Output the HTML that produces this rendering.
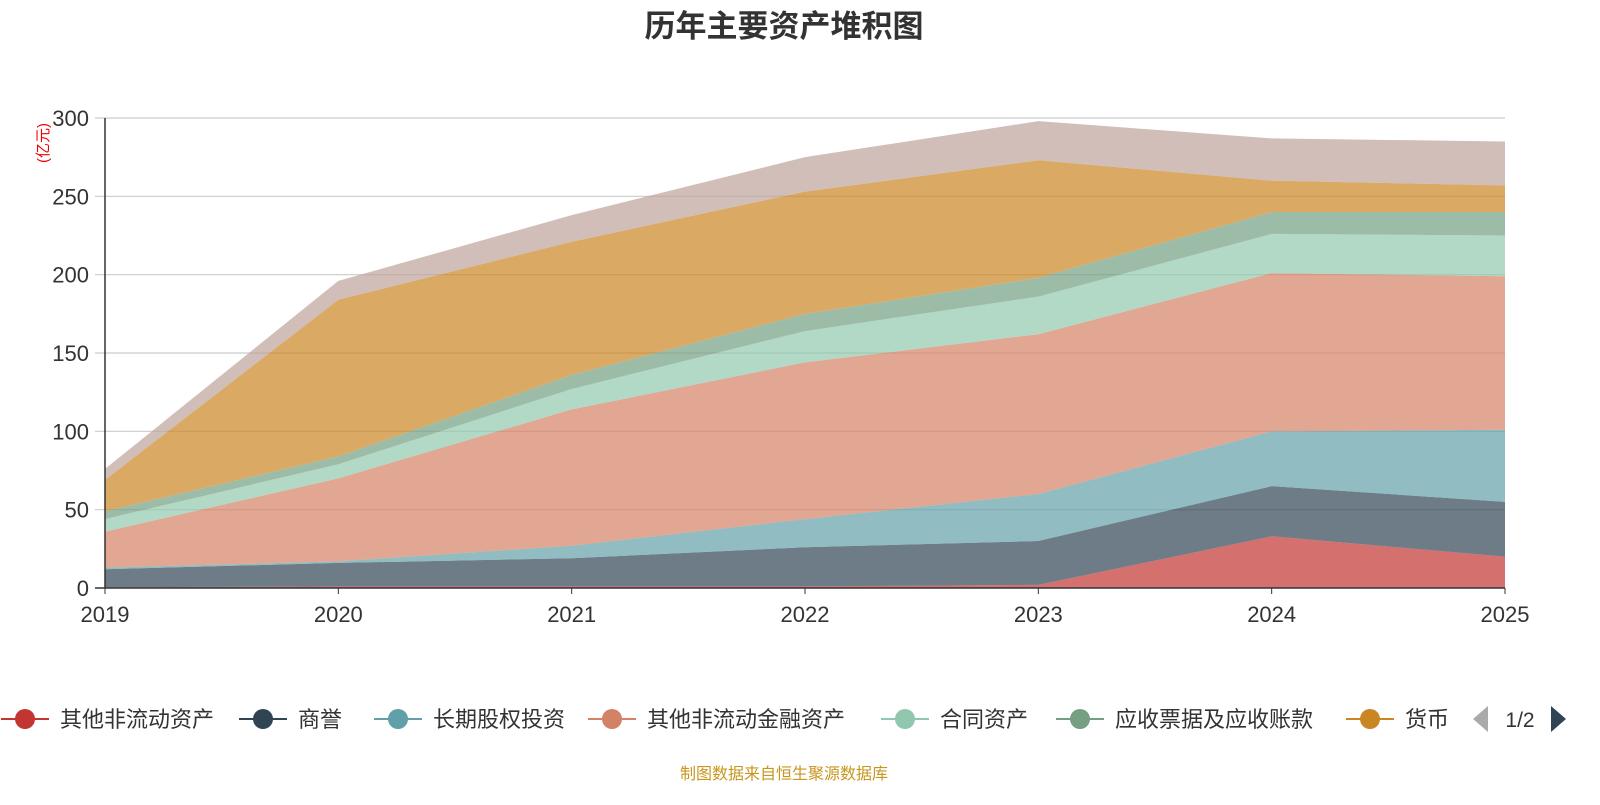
<!DOCTYPE html>
<html><head><meta charset="utf-8">
<style>
body{margin:0;background:#fff;width:1600px;height:800px;overflow:hidden;font-family:"Liberation Sans","Noto Sans CJK SC",sans-serif;}
</style></head>
<body>
<svg id="c" width="1600" height="800" xmlns="http://www.w3.org/2000/svg">
<text x="784" y="37" text-anchor="middle" font-size="31" font-weight="bold" fill="#333">历年主要资产堆积图</text>
<text transform="translate(48,143) rotate(-90)" text-anchor="middle" font-size="15" fill="#e00">(亿元)</text>
<g id="grid"></g><g id="areas"></g><g id="axes"></g><g id="legend"></g>
<text x="784" y="779" text-anchor="middle" font-size="16" fill="#c8961e">制图数据来自恒生聚源数据库</text>
</svg>
<script>
const years=['2019','2020','2021','2022','2023','2024','2025'];
const yTicks=[0,50,100,150,200,250,300];
const seriesNames=['其他非流动资产','商誉','长期股权投资','其他非流动金融资产','合同资产','应收票据及应收账款','货币','其他'];
const colors=['#c23531','#2f4554','#61a0a8','#d48265','#91c7ae','#749f83','#ca8622','#bda29a'];
const s0=[0.5,1,1,1,2,33,20];
const s1=[11.5,15,18,25,28,32,35];
const s2=[1,1,8,18,30,35,46];
const s3=[23,53,87,100,102,101,98];
const s4=[8,9,13,20,24,25,26];
const s5=[5,5,9,11,12,14,15];
const s6=[20,100,85,78,75,20,17];
const s7=[7,12,17,22,25,27,28];
const series=[s0,s1,s2,s3,s4,s5,s6,s7];
const NS='http://www.w3.org/2000/svg';
const x0=105,x1=1505,y0=588,y1=118;
const X=i=>x0+(x1-x0)*i/(years.length-1);
const Y=v=>y0-(y0-y1)*v/300;
function mk(t,a,p){const e=document.createElementNS(NS,t);for(const k in a)e.setAttribute(k,a[k]);p.appendChild(e);return e;}
const grid=document.getElementById('grid'),areas=document.getElementById('areas'),axes=document.getElementById('axes'),leg=document.getElementById('legend');
yTicks.forEach(t=>{
 const l=mk('line',{x1:95,x2:x1,y1:Y(t),y2:Y(t),stroke:t===0?'#333':'#ccc','stroke-width':t===0?1.5:1.2},t===0?axes:grid);
 
 
 const tx=mk('text',{x:89,y:Y(t)+8,'text-anchor':'end','font-size':22,fill:'#333'},axes);
 tx.textContent=t;
 
 
});
mk('line',{x1:x0,x2:x0,y1:y1,y2:y0,stroke:'#333','stroke-width':1.5},axes);
years.forEach((y,i)=>{
 mk('line',{x1:X(i),x2:X(i),y1:y0,y2:y0+6,stroke:'#333'},axes);
 const tx=mk('text',{x:X(i),y:y0+34,'text-anchor':'middle','font-size':22,fill:'#333'},axes);
 tx.textContent=y;
 
 
});
let base=years.map(()=>0);
series.forEach((s,k)=>{
 const top=base.map((b,i)=>b+s[i]);
 let d='M'+years.map((_,i)=>X(i)+','+Y(top[i])).join('L');
 for(let i=years.length-1;i>=0;i--)d+='L'+X(i)+','+Y(base[i]);
 const p=mk('path',{d:d+'Z',fill:colors[k],'fill-opacity':0.7},areas);
 
 
 base=top;
});
const legX=[25,263,398,612,905,1080,1370];
for(let k=0;k<7;k++){
 const g=mk('g',{},leg);
 
 
 mk('line',{x1:legX[k]-24,x2:legX[k]+24,y1:719,y2:719,stroke:colors[k],'stroke-width':2},g);
 mk('circle',{cx:legX[k],cy:719,r:10,fill:colors[k]},g);
 const t=mk('text',{x:legX[k]+35,y:727,'font-size':22,fill:'#333'},g);
 t.textContent=seriesNames[k];
}
const pl=mk('path',{d:'M1488,706L1488,732L1473,719Z',fill:'#aaa'},leg);


const pt=mk('text',{x:1520,y:727,'text-anchor':'middle','font-size':21,fill:'#333'},leg);
pt.textContent='1/2';


const pn=mk('path',{d:'M1551,706L1551,732L1566,719Z',fill:'#2f4554'},leg);


</script>
</body></html>
